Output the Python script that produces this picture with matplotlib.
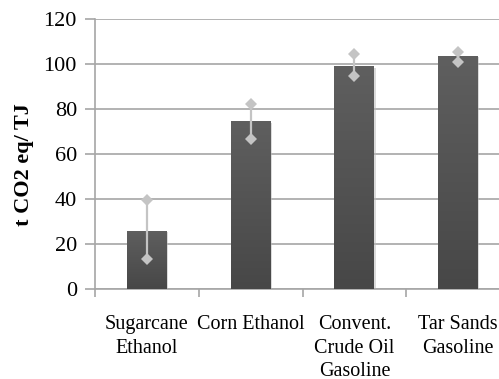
import numpy as np
import matplotlib
matplotlib.use("Agg")
import matplotlib.pyplot as plt
from matplotlib.colors import LinearSegmentedColormap

categories = ["Sugarcane\nEthanol", "Corn Ethanol", "Convent.\nCrude Oil\nGasoline", "Tar Sands\nGasoline"]
values = [26, 74.5, 99, 103.5]
err_low = [13.5, 66.7, 94.8, 101]
err_high = [39.6, 82.2, 104.3, 105.2]
y_ticks = [0, 20, 40, 60, 80, 100, 120]

plt.rcParams["font.family"] = ["Liberation Serif", "DejaVu Serif"]

fig = plt.figure(figsize=(4.99, 3.79), dpi=100)
W, H = 499, 379
x0, x1 = 95, 510
y_top, y_bot = 19, 289
ax = fig.add_axes([x0 / W, 1 - y_bot / H, (x1 - x0) / W, (y_bot - y_top) / H])

x = np.arange(len(categories))
bw = 0.385
grid_c = "#a6a6a6"

ax.set_xlim(-0.5, len(categories) - 0.5)
ax.set_ylim(0, 120)
ax.set_yticks(y_ticks)
ax.yaxis.grid(True, color=grid_c, linewidth=1.2, zorder=0)
ax.set_axisbelow(True)

# bars with a subtle vertical gradient and soft shadow
cmap = LinearSegmentedColormap.from_list("bar", ["#474747", "#5f5f5f"])
grad = np.linspace(0, 1, 256).reshape(-1, 1)
for xi, v in zip(x, values):
    ax.bar(xi + 0.012, v, bw, bottom=-0.6, color="#b8b8b8", alpha=0.5, zorder=2, linewidth=0)
    b = ax.bar(xi, v, bw, color="#555555", zorder=3, linewidth=0)[0]
    im = ax.imshow(grad, cmap=cmap, origin="lower", aspect="auto",
                   extent=(xi - bw / 2, xi + bw / 2, 0, v), zorder=3.5)
    im.set_clip_path(b)

ax.set_xlim(-0.5, len(categories) - 0.5)
ax.set_ylim(0, 120)

# asymmetric range markers
ec = "#c4c4c4"
for xi, lo, hi in zip(x, err_low, err_high):
    ax.plot([xi, xi], [lo, hi], color=ec, linewidth=1.6, zorder=4)
    ax.plot([xi, xi], [lo, hi], linestyle="none", marker="D", markersize=6.5,
            color=ec, markeredgewidth=0, zorder=5)

for s in ["top", "right"]:
    ax.spines[s].set_visible(False)
for s in ["left", "bottom"]:
    ax.spines[s].set_color(grid_c)
    ax.spines[s].set_linewidth(1.2)

ax.set_xticks(x)
ax.set_xticklabels(categories, fontsize=14.5, linespacing=1.32, va="top")
ax.set_xticks(np.arange(-0.5, len(categories), 1.0), minor=True)
ax.tick_params(axis="x", which="major", length=0, pad=19)
ax.tick_params(axis="x", which="minor", length=6, color=grid_c, width=1.2, direction="out")
ax.tick_params(axis="y", length=7, color=grid_c, width=1.2, pad=6, labelsize=16)

ax.set_ylabel("t CO2 eq/ TJ", fontsize=16, fontweight="bold")
ax.yaxis.set_label_coords(-61 / (x1 - x0), 0.46)

fig.savefig("out.png", dpi=100)
